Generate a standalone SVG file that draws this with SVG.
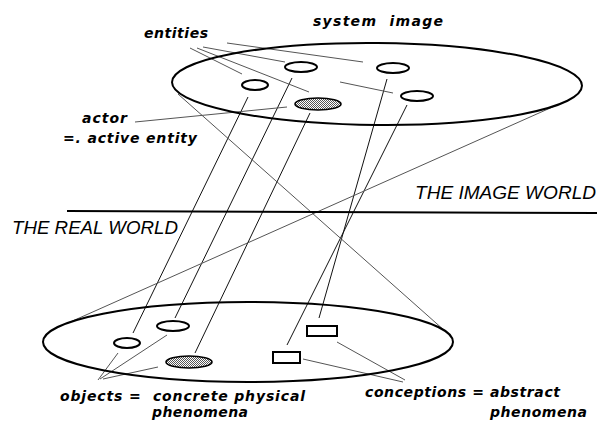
<svg xmlns="http://www.w3.org/2000/svg" width="597" height="421" viewBox="0 0 597 421">
<defs>
<pattern id="dots" width="2" height="2" patternUnits="userSpaceOnUse">
<rect width="2" height="2" fill="#fff"/>
<rect width="1" height="1" fill="#555"/>
<rect x="1" y="1" width="1" height="1" fill="#555"/>
</pattern>
<style>
.plane{fill:none;stroke:#000;stroke-width:2}
.obj{fill:#fff;stroke:#000;stroke-width:2}
.act{fill:url(#dots);stroke:#000;stroke-width:1.6}
.link{stroke:#111;stroke-width:1;fill:none}
.ptr{stroke:#555;stroke-width:1;fill:none}
.lbl{font-family:"DejaVu Sans",sans-serif;font-style:oblique;font-weight:bold;font-size:14px;fill:#000}
.world{font-family:"Liberation Sans",Arial,sans-serif;font-style:italic;font-size:18px;fill:#000}
</style>
</defs>
<rect width="597" height="421" fill="#fff"/>

<g id="connectors">
<line class="link" x1="248" y1="97" x2="133" y2="333"/>
<line class="link" x1="292" y1="78" x2="175" y2="318"/>
<line class="link" x1="310" y1="113" x2="195" y2="353"/>
<line class="link" x1="387" y1="79" x2="319" y2="318"/>
<line class="link" x1="407" y1="105" x2="287" y2="345"/>
<line class="ptr" x1="178" y1="94" x2="445" y2="331"/>
<line class="ptr" x1="557" y1="105" x2="68" y2="323"/>
<line class="ptr" x1="190" y1="48" x2="242" y2="74"/>
<line class="ptr" x1="197" y1="48" x2="309" y2="92"/>
<line class="ptr" x1="203" y1="47" x2="285" y2="62"/>
<line class="ptr" x1="227" y1="43" x2="363" y2="62"/>
<line class="ptr" x1="340" y1="82" x2="393" y2="93"/>
<line class="ptr" x1="135" y1="122" x2="287" y2="107"/>
<line class="ptr" x1="98" y1="380" x2="118" y2="353"/>
<line class="ptr" x1="100" y1="379" x2="167" y2="335"/>
<line class="ptr" x1="103" y1="379" x2="158" y2="367"/>
<line class="ptr" x1="405" y1="380" x2="337" y2="342"/>
<line class="ptr" x1="403" y1="382" x2="303" y2="359"/>
</g>

<g id="image-plane"><ellipse class="plane" cx="377" cy="84" rx="205" ry="41" transform="rotate(0.5 377 84)"/></g>
<g id="real-plane"><ellipse class="plane" cx="248" cy="342" rx="205" ry="40"/></g>
<g id="divider"><line x1="67" y1="211" x2="597" y2="213" stroke="#000" stroke-width="2"/></g>

<g id="entity-1"><ellipse class="obj" cx="301" cy="67" rx="16" ry="5"/></g>
<g id="entity-2"><ellipse class="obj" cx="393" cy="68" rx="16" ry="5"/></g>
<g id="entity-3"><ellipse class="obj" cx="255" cy="85" rx="13" ry="5"/></g>
<g id="entity-4"><ellipse class="obj" cx="417" cy="96" rx="16" ry="5"/></g>
<g id="actor"><ellipse class="act" cx="318" cy="104" rx="23" ry="6"/></g>

<g id="object-1"><ellipse class="obj" cx="127" cy="343" rx="13" ry="5"/></g>
<g id="object-2"><ellipse class="obj" cx="173" cy="326" rx="16" ry="5"/></g>
<g id="object-active"><ellipse class="act" cx="189" cy="362" rx="23" ry="6"/></g>
<g id="conception-1"><rect class="obj" x="307" y="326" width="30" height="10"/></g>
<g id="conception-2"><rect class="obj" x="273" y="352" width="27" height="11"/></g>

<g id="labels">
<text class="lbl" x="313" y="26" font-size="15" textLength="130" lengthAdjust="spacing" xml:space="preserve">system  image</text>
<text class="lbl" x="144" y="38" textLength="64" lengthAdjust="spacing">entities</text>
<text class="lbl" x="82" y="123" textLength="45" lengthAdjust="spacing">actor</text>
<text class="lbl" x="63" y="143" textLength="134" lengthAdjust="spacing">=. active entity</text>
<text class="world" x="415" y="199" textLength="181" lengthAdjust="spacingAndGlyphs">THE IMAGE WORLD</text>
<text class="world" x="12" y="234" textLength="166" lengthAdjust="spacingAndGlyphs">THE REAL WORLD</text>
<text class="lbl" x="60" y="401" textLength="245" lengthAdjust="spacing" xml:space="preserve">objects =  concrete physical</text>
<text class="lbl" x="152" y="417" textLength="96" lengthAdjust="spacing">phenomena</text>
<text class="lbl" x="365" y="397" textLength="195" lengthAdjust="spacing">conceptions = abstract</text>
<text class="lbl" x="490" y="417" textLength="97" lengthAdjust="spacing">phenomena</text>
</g>
</svg>
